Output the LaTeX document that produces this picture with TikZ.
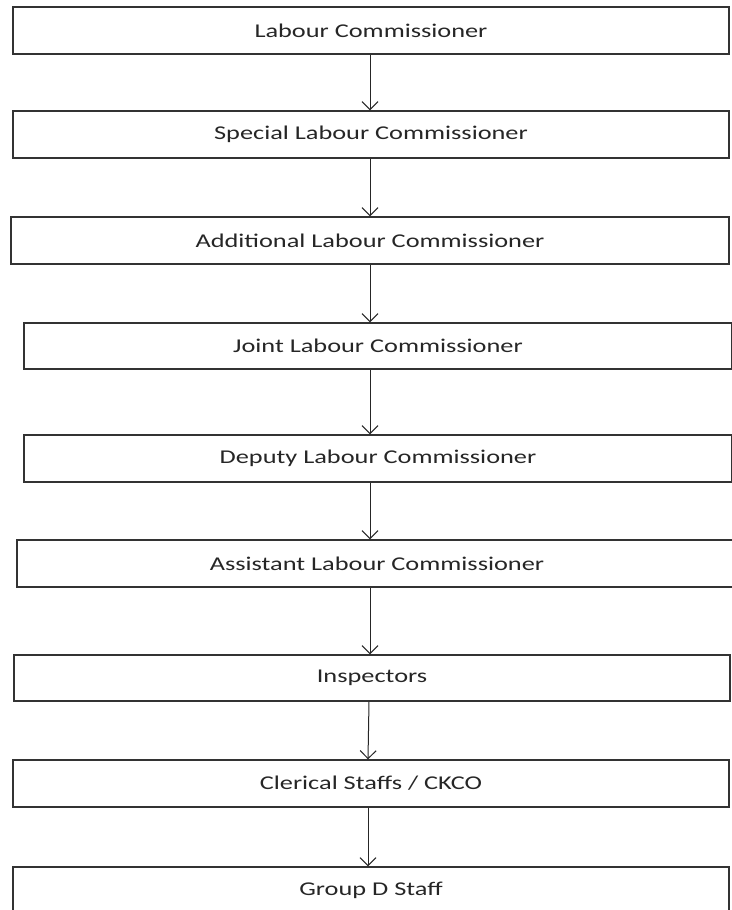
\documentclass[tikz,border=0pt]{standalone}
\usepackage{fontspec}
\setmainfont{Carlito}
\usetikzlibrary{arrows.meta}
\newcommand{\wtxt}[1]{\scalebox{1.35}[1]{#1}}
\begin{document}
\begin{tikzpicture}[x=1pt,y=-1pt,
  box/.style={draw=black!80, line width=1.4pt, rectangle, inner sep=0pt, font=\fontsize{19.5}{22}\selectfont, text=black!85},
  conn/.style={draw=black!85, line width=1pt, -{Straight Barb[length=8pt,width=16pt,line width=1pt]}}]
\useasboundingbox[fill=white] (0,0) rectangle (731,910);
\node[box, minimum width=716pt, minimum height=47pt] (n1) at (371,30.5) {\wtxt{Labour Commissioner}};
\node[box, minimum width=716pt, minimum height=47pt] (n2) at (371,134.5) {\wtxt{Special Labour Commissioner}};
\node[box, minimum width=718pt, minimum height=47pt] (n3) at (370,240.5) {\wtxt{Additional Labour Commissioner}};
\node[box, minimum width=708pt, minimum height=46pt] (n4) at (378,346) {\wtxt{Joint Labour Commissioner}};
\node[box, minimum width=708pt, minimum height=47pt] (n5) at (378,458.5) {\wtxt{Deputy Labour Commissioner}};
\node[box, minimum width=720pt, minimum height=47pt] (n6) at (377,563.5) {\wtxt{Assistant Labour Commissioner}};
\node[box, minimum width=716pt, minimum height=46pt] (n7) at (372,678) {\wtxt{Inspectors}};
\node[box, minimum width=716pt, minimum height=47pt] (n8) at (371,783.5) {\wtxt{Clerical Staffs / CKCO}};
\node[box, minimum width=716pt, minimum height=47pt] (n9) at (371,890.5) {\wtxt{Group D Staff}};
\draw[conn] (370,0 |- n1.south) -- (370,0 |- n2.north);
\draw[conn] (370,0 |- n2.south) -- (370,0 |- n3.north);
\draw[conn] (370,0 |- n3.south) -- (370,0 |- n4.north);
\draw[conn] (370,0 |- n4.south) -- (370,0 |- n5.north);
\draw[conn] (370,0 |- n5.south) -- (370,0 |- n6.north);
\draw[conn] (370,0 |- n6.south) -- (370,0 |- n7.north);
\draw[conn] (369,0 |- n7.south) -- (368,0 |- n8.north);
\draw[conn] (368,0 |- n8.south) -- (368,0 |- n9.north);
\end{tikzpicture}
\end{document}
